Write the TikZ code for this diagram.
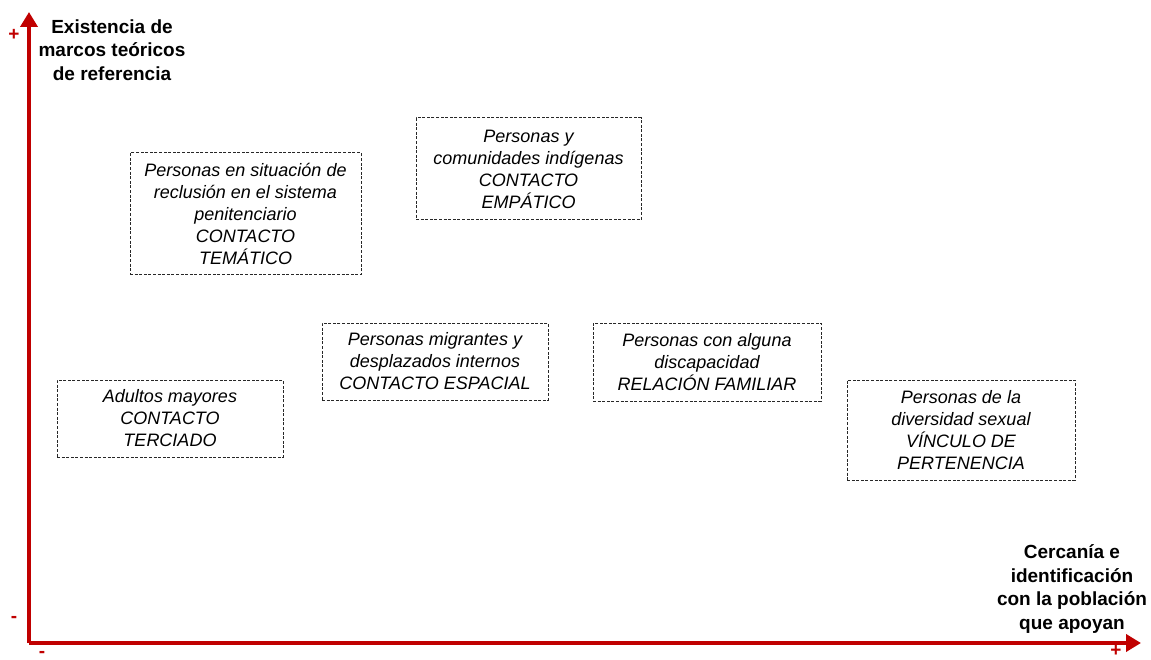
\documentclass[tikz,border=0pt]{standalone}
\usepackage{fontspec}
\setmainfont{Liberation Sans}
\usetikzlibrary{arrows.meta}
\definecolor{axisred}{RGB}{192,0,0}
\definecolor{boxline}{RGB}{40,40,40}
\tikzset{
  axisline/.style={draw=axisred, line width=4pt, -{Triangle[length=15pt,width=17pt]}},
  catbox/.style={draw=boxline, line width=1pt, dash pattern=on 3pt off 1.6pt, align=center,
    font=\fontsize{18}{22}\selectfont\itshape, inner sep=0pt},
  axislabel/.style={align=center, font=\fontsize{19}{23.5}\selectfont\bfseries},
  signmark/.style={text=axisred, font=\fontsize{19}{19}\selectfont\bfseries, inner sep=0pt}
}
\begin{document}
\begin{tikzpicture}[x=1pt,y=-1pt]
\useasboundingbox (0,0) rectangle (1151,660);
% axes
\coordinate (origin) at (29,643);
\coordinate (ytip) at (29,12);
\coordinate (xtip) at (1141,643);
\draw[axisline] (origin) -- (ytip);
\draw[axisline] (origin) -- (xtip);
% signs
\node[signmark] (yplus) at (14,35) {+};
\node[signmark] (yminus) at (14,619) {-};
\node[signmark] (xminus) at (42,654) {-};
\node[signmark] (xplus) at (1116,651) {+};
% axis labels
\node[axislabel] (ylab) at (112,50) {Existencia de\\marcos teóricos\\de referencia};
\node[axislabel] (xlab) at (1072,589) {Cercanía e\\identificación\\con la población\\que apoyan};
% boxes
\node[catbox, minimum width=231pt, minimum height=122pt] (recl) at (245.5,214)
  {Personas en situación de\\reclusión en el sistema\\penitenciario\\CONTACTO\\TEMÁTICO};
\node[catbox, minimum width=225pt, minimum height=102pt] (indig) at (528.5,169)
  {Personas y\\comunidades indígenas\\CONTACTO\\EMPÁTICO};
\node[catbox, minimum width=226pt, minimum height=77pt] (migr) at (435,361.5)
  {Personas migrantes y\\desplazados internos\\CONTACTO ESPACIAL};
\node[catbox, minimum width=228pt, minimum height=78pt] (disc) at (707,362)
  {Personas con alguna\\discapacidad\\RELACIÓN FAMILIAR};
\node[catbox, minimum width=226pt, minimum height=77pt] (adult) at (170,418.5)
  {Adultos mayores\\CONTACTO\\TERCIADO};
\node[catbox, minimum width=228pt, minimum height=100pt] (divers) at (961,430)
  {Personas de la\\diversidad sexual\\VÍNCULO DE\\PERTENENCIA};
\end{tikzpicture}
\end{document}
